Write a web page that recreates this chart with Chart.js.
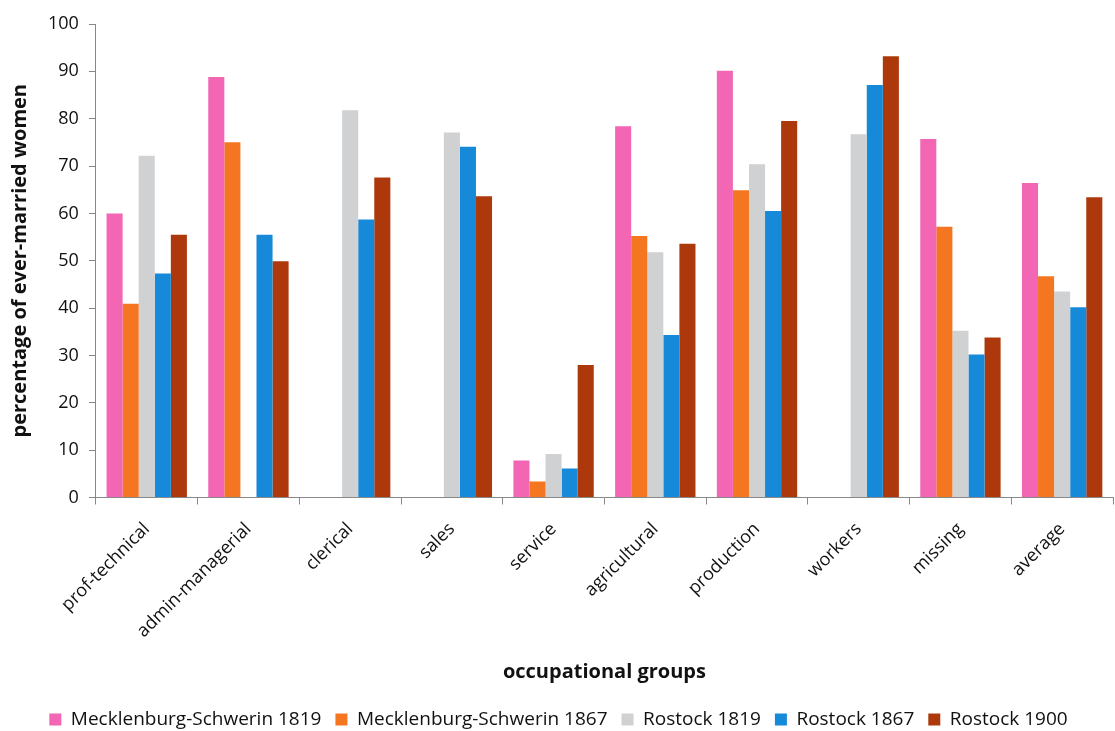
<!DOCTYPE html>
<html>
<head>
<meta charset="utf-8">
<script src="https://cdn.jsdelivr.net/npm/chart.js@4/dist/chart.umd.min.js"></script>
<style>
  html, body { margin: 0; padding: 0; background: #ffffff; }
  #wrap { width: 1115px; height: 731px; }
</style>
</head>
<body>
<div id="wrap"><canvas id="chart" width="1115" height="731"></canvas></div>
<script>
// Occupational groups along the x axis
const categories = ['prof-technical', 'admin-managerial', 'clerical', 'sales', 'service',
  'agricultural', 'production', 'workers', 'missing', 'average'];

// Percentage of ever-married women per group (null = no observation)
const mecklenburg1819 = [60.0, 88.8, null, null, 7.8, 78.4, 90.1, null, 75.7, 66.4];
const mecklenburg1867 = [40.9, 75.0, null, null, 3.4, 55.2, 64.9, null, 57.2, 46.7];
const rostock1819     = [72.2, null, 81.8, 77.1, 9.2, 51.8, 70.4, 76.7, 35.2, 43.5];
const rostock1867     = [47.3, 55.5, 58.7, 74.1, 6.1, 34.3, 60.5, 87.1, 30.2, 40.2];
const rostock1900     = [55.5, 49.9, 67.6, 63.6, 28.0, 53.6, 79.5, 93.2, 33.8, 63.4];

const seriesNames = ['Mecklenburg-Schwerin 1819', 'Mecklenburg-Schwerin 1867',
  'Rostock 1819', 'Rostock 1867', 'Rostock 1900'];
const seriesColors = ['#F266B3', '#F47621', '#D0D1D3', '#1689D9', '#AD380B'];
const seriesValues = [mecklenburg1819, mecklenburg1867, rostock1819, rostock1867, rostock1900];

const FONT = 'Open Sans';

new Chart(document.getElementById('chart'), {
  type: 'bar',
  data: {
    labels: categories,
    datasets: seriesValues.map((vals, i) => ({
      label: seriesNames[i],
      data: vals,
      backgroundColor: seriesColors[i],
      borderWidth: 0,
      categoryPercentage: 0.79,
      barPercentage: 1.0
    }))
  },
  options: {
    responsive: false,
    animation: false,
    layout: { padding: { top: 24, right: 2, left: 4, bottom: -8 } },
    plugins: {
      tooltip: { enabled: false },
      legend: {
        position: 'bottom',
        labels: {
          boxWidth: 12,
          boxHeight: 12,
          padding: 14,
          color: '#111',
          font: { family: FONT, size: 19 }
        }
      }
    },
    scales: {
      x: {
        grid: { display: true, drawOnChartArea: false, drawTicks: true, tickLength: 7, color: '#888', offset: true },
        border: { display: true, color: '#888', width: 1 },
        ticks: { color: '#111', minRotation: 45, maxRotation: 45, padding: 14, font: { family: FONT, size: 18 } },
        title: { display: true, text: 'occupational groups', color: '#111', padding: { top: 4, bottom: 12 },
          font: { family: FONT, size: 20, weight: 'bold' } }
      },
      y: {
        min: 0,
        max: 100,
        grid: { display: true, drawOnChartArea: false, drawTicks: true, tickLength: 7, color: '#888' },
        border: { display: true, color: '#888', width: 1 },
        ticks: { stepSize: 10, color: '#111', padding: 10, font: { family: FONT, size: 18 } },
        title: { display: true, text: 'percentage of ever-married women', color: '#111', padding: { bottom: 6 },
          font: { family: FONT, size: 20, weight: 'bold' } }
      }
    }
  }
});
</script>
</body>
</html>
